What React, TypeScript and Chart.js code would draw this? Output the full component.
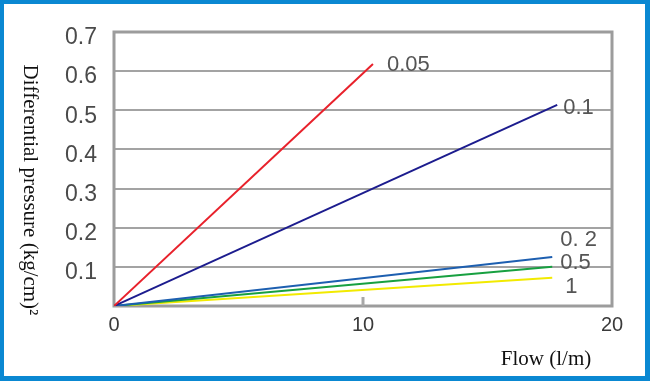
import React, { useEffect, useRef } from "react";
import { Chart, registerables } from "chart.js";

Chart.register(...registerables);

// ---- data ----
const seriesNames = ["0.05", "0.1", "0.2", "0.5", "1"];
const seriesLabelText = ["0.05", "0.1", "0. 2", "0.5", "1"];
const flowStart = [0, 0, 0, 0, 0];
const flowEnd = [10.4, 17.8, 17.6, 17.6, 17.6];
const pressureStart = [0, 0, 0, 0, 0];
const pressureEnd = [0.618, 0.514, 0.125, 0.1, 0.072];
const xTickValues = [0, 10, 20];
const yTickValues = [0.1, 0.2, 0.3, 0.4, 0.5, 0.6, 0.7];
const markTickValues = [10];

const xTitle = "Flow (l/m)";
const yTitle = "Differential pressure (kg/cm)\u00B2";

// ---- styles ----
const seriesColors = ["#e8212b", "#1c1c8e", "#1d5fb0", "#17a040", "#f2ea00"];
const labelDx = [14, 6, 8, 8, 13];
const labelDy = [1, 3, -17, -4, 9];

const framePlugin = {
  id: "framePlugin",
  beforeDraw(chart: any) {
    const { ctx, width, height } = chart;
    ctx.save();
    ctx.fillStyle = "#0a88d2";
    ctx.fillRect(0, 0, width, height);
    ctx.fillStyle = "#ffffff";
    ctx.fillRect(4, 4, width - 9, height - 9);
    ctx.restore();
  },
  beforeDatasetsDraw(chart: any) {
    const { ctx, chartArea } = chart;
    const xs = chart.scales.x;
    ctx.save();
    ctx.strokeStyle = "#9c9c9c";
    ctx.lineWidth = 3;
    ctx.strokeRect(chartArea.left, chartArea.top, chartArea.right - chartArea.left, chartArea.bottom - chartArea.top);
    ctx.strokeStyle = "#a8a8a8";
    ctx.lineWidth = 3;
    markTickValues.forEach((v) => {
      const px = xs.getPixelForValue(v);
      ctx.beginPath();
      ctx.moveTo(px, chartArea.bottom - 9);
      ctx.lineTo(px, chartArea.bottom);
      ctx.stroke();
    });
    ctx.restore();
  },
  afterDraw(chart: any) {
    const { ctx } = chart;
    const xs = chart.scales.x;
    const ys = chart.scales.y;
    ctx.save();
    // line end labels
    ctx.font = "22px 'Liberation Sans', Arial, sans-serif";
    ctx.fillStyle = "#555555";
    ctx.textAlign = "left";
    ctx.textBaseline = "middle";
    seriesLabelText.forEach((t, i) => {
      const px = xs.getPixelForValue(flowEnd[i]);
      const py = ys.getPixelForValue(pressureEnd[i]);
      ctx.fillText(t, px + labelDx[i], py + labelDy[i]);
    });
    // x title
    ctx.font = "21px 'Liberation Serif', 'Times New Roman', serif";
    ctx.fillStyle = "#111111";
    ctx.textAlign = "center";
    ctx.textBaseline = "alphabetic";
    ctx.fillText(xTitle, 546, 365);
    // y title (reads top to bottom)
    ctx.translate(24, 190);
    ctx.rotate(Math.PI / 2);
    ctx.fillText(yTitle, 0, 0);
    ctx.restore();
  },
};

export default function App() {
  const canvasRef = useRef<HTMLCanvasElement | null>(null);

  useEffect(() => {
    document.body.style.margin = "0";
    const canvas = canvasRef.current;
    if (!canvas) return;
    const datasets = seriesNames.map((name, i) => ({
      label: name,
      data: [
        { x: flowStart[i], y: pressureStart[i] },
        { x: flowEnd[i], y: pressureEnd[i] },
      ],
      borderColor: seriesColors[i],
      backgroundColor: seriesColors[i],
      borderWidth: 2,
      pointRadius: 0,
      showLine: true,
      fill: false,
      tension: 0,
    }));
    const chart = new Chart(canvas, {
      type: "scatter",
      data: { datasets },
      options: {
        animation: false,
        responsive: false,
        devicePixelRatio: 1,
        layout: { padding: { left: 0, right: 38, top: 32, bottom: 0 } },
        plugins: {
          legend: { display: false },
          tooltip: { enabled: false },
          title: { display: false },
        },
        scales: {
          x: {
            type: "linear",
            min: 0,
            max: 20,
            afterBuildTicks: (scale: any) => {
              scale.ticks = xTickValues.map((v) => ({ value: v }));
            },
            afterFit: (scale: any) => {
              scale.height = 75;
            },
            grid: { display: false, drawTicks: false },
            border: { display: false },
            ticks: {
              padding: 7,
              color: "#3a3a3a",
              font: { family: "'Liberation Sans', Arial, sans-serif", size: 20 },
              callback: (v: any) => String(v),
              maxRotation: 0,
              autoSkip: false,
            },
          },
          y: {
            type: "linear",
            min: 0,
            max: 0.7,
            afterBuildTicks: (scale: any) => {
              scale.ticks = yTickValues.map((v) => ({ value: v }));
            },
            afterFit: (scale: any) => {
              scale.width = 114;
            },
            grid: { color: "#a3a3a3", lineWidth: 2, drawTicks: false },
            border: { display: false },
            ticks: {
              padding: 17,
              labelOffset: 6,
              color: "#4a4a4a",
              font: { family: "'Liberation Sans', Arial, sans-serif", size: 23 },
              callback: (v: any) => Number(v).toFixed(1),
              autoSkip: false,
            },
          },
        },
      },
      plugins: [framePlugin],
    } as any);
    return () => chart.destroy();
  }, []);

  return (
    <div style={{ width: 650, height: 381, position: "relative" }}>
      <canvas ref={canvasRef} width={650} height={381} style={{ width: 650, height: 381, display: "block" }} />
    </div>
  );
}
